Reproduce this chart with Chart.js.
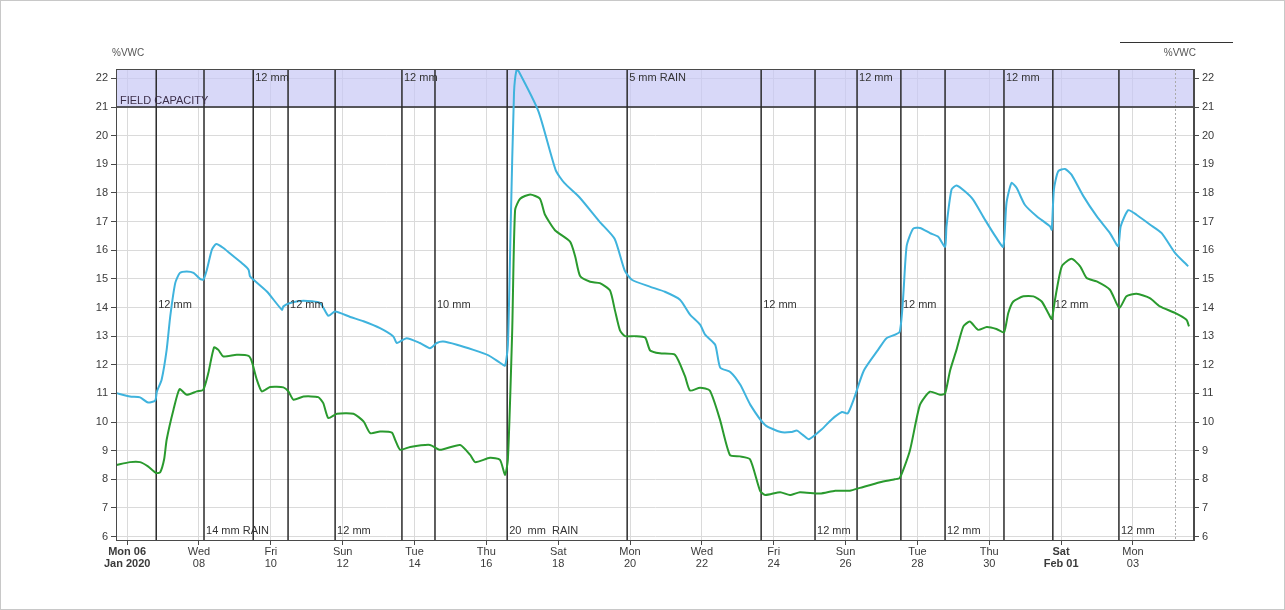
<!DOCTYPE html>
<html>
<head>
<meta charset="utf-8">
<title>%VWC</title>
<script src="https://cdn.jsdelivr.net/npm/chart.js@4/dist/chart.umd.min.js"></script>
<style>
    html, body { margin: 0; padding: 0; background: #fff; }
    #chart { display: block; }
</style>
</head>
<body>
<canvas id="chart" width="1285" height="610"></canvas>
<script>
'use strict';

// days counted from Mon 06 Jan 2020 00:00
var dayMin = -0.31,
    dayMax = 29.70,
    vwcMin = 5.88,
    vwcMax = 22.33,
    fieldCapacity = 21,
    nowDay = 29.17;

var tickDays = [0, 2, 4, 6, 8, 10, 12, 14, 16, 18, 20, 22, 24, 26, 28];
var tickTop = ['Mon 06', 'Wed', 'Fri', 'Sun', 'Tue', 'Thu', 'Sat', 'Mon', 'Wed', 'Fri', 'Sun', 'Tue', 'Thu', 'Sat', 'Mon'];
var tickBottom = ['Jan 2020', '08', '10', '12', '14', '16', '18', '20', '22', '24', '26', '28', '30', 'Feb 01', '03'];
var boldTicks = [0, 13];
var vwcTicks = [6, 7, 8, 9, 10, 11, 12, 13, 14, 15, 16, 17, 18, 19, 20, 21, 22];

var rainDays = [0.81, 2.14, 3.51, 4.48, 5.79, 7.65, 8.57, 10.58, 13.92, 17.65, 19.15, 20.32, 21.54, 22.77, 24.41, 25.77, 27.61];
var rainLabels = ['12 mm', '14 mm RAIN', '12 mm', '12 mm', '12 mm', '12 mm', '10 mm', '20  mm  RAIN', '5 mm RAIN',
    '12 mm', '12 mm', '12 mm', '12 mm', '12 mm', '12 mm', '12 mm', '12 mm'];

var shallowDays = [-0.30, 0.08, 0.36, 0.58, 0.78, 0.83, 0.96, 1.10, 1.20, 1.34, 1.47, 1.66, 1.85, 2.03, 2.12, 2.22,
    2.36, 2.48, 2.68, 2.96, 3.24, 3.38, 3.42, 3.52, 3.89, 4.31, 4.35, 4.54, 4.91, 5.37, 5.60, 5.79, 6.21, 6.58,
    7.04, 7.41, 7.51, 7.78, 8.15, 8.43, 8.62, 8.80, 9.18, 9.64, 10.06, 10.38, 10.52, 10.60, 10.68, 10.77, 10.84,
    10.90, 11.45, 11.93, 12.17, 12.59, 13.15, 13.57, 13.85, 14.05, 14.55, 14.97, 15.39, 15.67, 15.95, 16.09,
    16.37, 16.51, 16.79, 17.07, 17.35, 17.76, 18.20, 18.48, 18.65, 18.81, 18.98, 19.34, 19.62, 19.90, 20.06,
    20.23, 20.51, 20.91, 21.14, 21.51, 21.70, 21.88, 22.07, 22.35, 22.58, 22.77, 22.81, 22.95, 23.09, 23.32,
    23.55, 23.88, 24.20, 24.39, 24.48, 24.62, 24.76, 24.99, 25.32, 25.69, 25.74, 25.80, 25.92, 26.11, 26.29,
    26.62, 26.99, 27.36, 27.59, 27.66, 27.87, 28.10, 28.47, 28.80, 29.17, 29.49, 29.54];
var shallowVwc = [11.01, 10.89, 10.86, 10.68, 10.75, 11.07, 11.48, 12.52, 13.69, 14.86, 15.21, 15.26, 15.21, 15.00,
    14.97, 15.32, 16.02, 16.22, 16.08, 15.79, 15.50, 15.32, 15.09, 14.97, 14.56, 13.92, 14.04, 14.16, 14.24,
    14.16, 13.71, 13.86, 13.67, 13.52, 13.28, 12.99, 12.76, 12.93, 12.76, 12.58, 12.76, 12.81, 12.70, 12.52,
    12.33, 12.07, 11.97, 12.70, 17.00, 21.50, 22.30, 22.25, 20.85, 18.80, 18.35, 17.85, 17.00, 16.40, 15.30,
    14.97, 14.73, 14.55, 14.27, 13.75, 13.40, 13.05, 12.70, 11.90, 11.75, 11.30, 10.60, 9.90, 9.65, 9.65, 9.70,
    9.55, 9.40, 9.75, 10.10, 10.35, 10.30, 10.80, 11.80, 12.53, 12.93, 13.16, 16.14, 16.75, 16.78, 16.60,
    16.47, 16.12, 16.84, 18.12, 18.26, 18.06, 17.77, 17.07, 16.43, 16.12, 17.65, 18.35, 18.18, 17.59, 17.19,
    16.84, 16.72, 18.12, 18.76, 18.84, 18.64, 17.89, 17.19, 16.60, 16.14, 16.84, 17.40, 17.24, 16.90, 16.60,
    15.91, 15.50, 15.44];

var deepDays = [-0.30, 0.08, 0.36, 0.58, 0.80, 0.92, 1.03, 1.10, 1.29, 1.46,
    1.66, 1.94, 2.12, 2.26, 2.42, 2.54, 2.68, 3.05, 3.38, 3.47,
    3.61, 3.75, 3.98, 4.35, 4.49, 4.63, 4.91, 5.32, 5.46, 5.60,
    5.84, 6.30, 6.58, 6.77, 7.04, 7.37, 7.46, 7.60, 7.88, 8.43,
    8.71, 9.27, 9.55, 9.69, 10.10, 10.38, 10.52, 10.60, 10.72, 10.80,
    10.94, 11.22, 11.49, 11.63, 11.91, 12.33, 12.47, 12.61, 12.89, 13.16,
    13.44, 13.58, 13.72, 13.86, 14.14, 14.42, 14.56, 14.83, 15.25, 15.53,
    15.67, 15.95, 16.22, 16.50, 16.78, 17.06, 17.34, 17.62, 17.76, 18.18,
    18.45, 18.73, 19.29, 19.71, 20.12, 20.40, 20.96, 21.37, 21.51, 21.79,
    22.07, 22.35, 22.63, 22.77, 22.91, 23.09, 23.28, 23.46, 23.69, 23.93,
    24.20, 24.41, 24.53, 24.67, 24.95, 25.23, 25.46, 25.64, 25.74, 25.83,
    26.02, 26.29, 26.53, 26.71, 26.99, 27.36, 27.62, 27.82, 28.10, 28.47,
    28.75, 29.17, 29.49, 29.56];
var deepVwc = [8.50, 8.60, 8.60, 8.45, 8.22, 8.25, 8.70, 9.38, 10.43, 11.15,
    10.95, 11.07, 11.13, 11.71, 12.61, 12.52, 12.29, 12.35, 12.31, 12.12,
    11.48, 11.07, 11.22, 11.21, 11.07, 10.78, 10.89, 10.87, 10.66, 10.14,
    10.29, 10.29, 10.02, 9.61, 9.67, 9.63, 9.38, 9.03, 9.13, 9.20,
    9.03, 9.20, 8.85, 8.60, 8.75, 8.68, 8.15, 8.70, 13.20, 17.40,
    17.80, 17.95, 17.80, 17.25, 16.70, 16.30, 15.80, 15.10, 14.90, 14.85,
    14.60, 13.90, 13.20, 13.00, 13.00, 12.95, 12.50, 12.40, 12.35, 11.60,
    11.10, 11.20, 11.10, 10.10, 8.85, 8.80, 8.70, 7.60, 7.45, 7.55,
    7.45, 7.55, 7.50, 7.60, 7.60, 7.70, 7.90, 8.00, 8.05, 9.00,
    10.60, 11.06, 10.95, 11.00, 11.80, 12.53, 13.34, 13.51, 13.22, 13.32,
    13.25, 13.13, 13.81, 14.21, 14.39, 14.39, 14.21, 13.81, 13.60, 14.27,
    15.44, 15.70, 15.44, 15.03, 14.91, 14.62, 13.98, 14.39, 14.48, 14.33,
    14.04, 13.81, 13.57, 13.34];

var font = '"Liberation Sans", Arial, sans-serif',
    textColor = '#3a3a3a',
    gridColor = '#dadada',
    frameColor = '#4a4a4a';

var toPoints = function (days, values) {
        return days.map(function (day, i) {
            return { x: day, y: values[i] };
        });
    },

    fixedTicks = function (list) {
        return function (scale) {
            scale.ticks = list.map(function (value) {
                return { value: value };
            });
        };
    },

    fixedSize = function (key, size) {
        return function (scale) {
            scale[key] = size;
        };
    };

var soilPlugin = {
    id: 'soilOverlay',

    beforeDatasetsDraw: function (chart) {
        var ctx = chart.ctx,
            area = chart.chartArea,
            x = chart.scales.x,
            y = chart.scales.y,
            fcY = y.getPixelForValue(fieldCapacity),
            nowX = Math.round(x.getPixelForValue(nowDay)) + 0.5;

        ctx.save();
        ctx.fillStyle = 'rgba(200, 200, 245, 0.7)';
        ctx.fillRect(area.left, area.top, area.right - area.left, fcY - area.top);

        ctx.strokeStyle = '#aaa';
        ctx.lineWidth = 1;
        ctx.setLineDash([2, 2]);
        ctx.beginPath();
        ctx.moveTo(nowX, area.top);
        ctx.lineTo(nowX, area.bottom);
        ctx.stroke();
        ctx.setLineDash([]);

        ctx.strokeStyle = '#2a2a2a';
        ctx.lineWidth = 1.5;
        rainDays.forEach(function (day) {
            var px = x.getPixelForValue(day);
            ctx.beginPath();
            ctx.moveTo(px, area.top);
            ctx.lineTo(px, area.bottom);
            ctx.stroke();
        });

        ctx.beginPath();
        ctx.moveTo(area.left, fcY);
        ctx.lineTo(area.right, fcY);
        ctx.stroke();

        ctx.fillStyle = '#3c2f4a';
        ctx.font = '11px ' + font;
        ctx.textBaseline = 'bottom';
        ctx.textAlign = 'left';
        ctx.fillText('FIELD CAPACITY', area.left + 4, fcY - 1);
        ctx.restore();
    },

    afterDatasetsDraw: function (chart) {
        var ctx = chart.ctx,
            area = chart.chartArea,
            x = chart.scales.x,
            y = chart.scales.y,
            levels = [14.1, 6.2, 22.0];

        ctx.save();
        ctx.fillStyle = '#333';
        ctx.font = '11px ' + font;
        ctx.textBaseline = 'middle';
        ctx.textAlign = 'left';
        rainLabels.forEach(function (label, i) {
            ctx.fillText(label, x.getPixelForValue(rainDays[i]) + 2, y.getPixelForValue(levels[i % 3]));
        });

        ctx.strokeStyle = frameColor;
        ctx.lineWidth = 1;
        ctx.strokeRect(area.left + 0.5, area.top + 0.5, area.right - area.left - 1, area.bottom - area.top);

        // axis titles and the stray legend rule above the right one
        ctx.fillStyle = '#555';
        ctx.font = '10px ' + font;
        ctx.textBaseline = 'middle';
        ctx.textAlign = 'left';
        ctx.fillText('%VWC', area.left - 4, 53);
        ctx.textAlign = 'right';
        ctx.fillText('%VWC', area.right + 2, 53);
        ctx.strokeStyle = '#333';
        ctx.beginPath();
        ctx.moveTo(area.right - 74, 42.5);
        ctx.lineTo(area.right + 39, 42.5);
        ctx.stroke();

        ctx.strokeStyle = '#c8c8c8';
        ctx.strokeRect(0.5, 0.5, chart.width - 1, chart.height - 1);
        ctx.restore();
    }
};

var yAxis = function (position) {
    return {
        type: 'linear',
        position: position,
        min: vwcMin,
        max: vwcMax,
        afterBuildTicks: fixedTicks(vwcTicks),
        afterFit: fixedSize('width', position === 'left' ? 116 : 91),
        border: { display: true, color: frameColor },
        grid: {
            color: gridColor,
            drawOnChartArea: position === 'left',
            tickColor: frameColor,
            tickLength: 5
        },
        ticks: {
            color: textColor,
            padding: 3,
            font: { family: font, size: 11 }
        }
    };
};

new Chart(document.getElementById('chart').getContext('2d'), {
    type: 'line',
    data: {
        datasets: [{
            label: 'Shallow',
            data: toPoints(shallowDays, shallowVwc),
            borderColor: '#3fb3dd',
            borderWidth: 2,
            pointRadius: 0,
            tension: 0.2,
            yAxisID: 'y'
        }, {
            label: 'Deep',
            data: toPoints(deepDays, deepVwc),
            borderColor: '#2a9a2e',
            borderWidth: 2,
            pointRadius: 0,
            tension: 0.2,
            yAxisID: 'y'
        }]
    },
    options: {
        responsive: false,
        animation: false,
        devicePixelRatio: 1,
        layout: { padding: { top: 69, left: 0, right: 0, bottom: 0 } },
        plugins: {
            legend: { display: false },
            tooltip: { enabled: false }
        },
        scales: {
            x: {
                type: 'linear',
                min: dayMin,
                max: dayMax,
                afterBuildTicks: fixedTicks(tickDays),
                afterFit: fixedSize('height', 70),
                border: { display: true, color: frameColor },
                grid: { color: gridColor, tickColor: frameColor, tickLength: 5 },
                ticks: {
                    color: textColor,
                    padding: 1,
                    maxRotation: 0,
                    autoSkip: false,
                    font: function (context) {
                        return {
                            family: font,
                            size: 11,
                            lineHeight: 1.1,
                            weight: boldTicks.indexOf(context.index) >= 0 ? 'bold' : 'normal'
                        };
                    },
                    callback: function (value, index) {
                        return [tickTop[index], tickBottom[index]];
                    }
                }
            },
            y: yAxis('left'),
            y2: yAxis('right')
        }
    },
    plugins: [soilPlugin]
});
</script>
</body>
</html>
